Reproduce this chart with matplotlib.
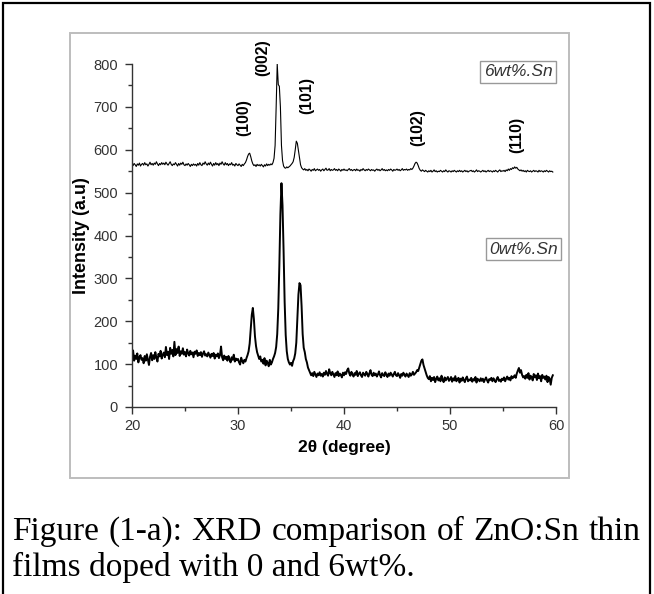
import numpy as np
import matplotlib.pyplot as plt
from matplotlib.patches import Rectangle
from matplotlib.ticker import MultipleLocator

plt.rcParams['font.family'] = ['Liberation Sans', 'DejaVu Sans']

# scan grid, 0.1 degree step
two_theta = np.linspace(20.0, 59.7, 398)

# undoped film (one row per degree)
intensity_0wt = [
    118, 132, 108, 120, 112, 125, 104, 116, 121, 110,
    114, 102, 119, 108, 123, 111, 98, 117, 126, 109,
    121, 112, 128, 115, 106, 124, 118, 131, 113, 122,
    127, 116, 140, 121, 129, 112, 138, 124, 133, 118,
    152, 121, 135, 126, 141, 119, 130, 124, 137, 122,
    128, 118, 134, 125, 120, 131, 123, 127, 116, 129,
    124, 132, 119, 126, 121, 128, 117, 125, 130, 120,
    123, 118, 127, 121, 115, 124, 119, 126, 113, 122,
    118, 125, 114, 121, 141, 116, 109, 120, 112, 117,
    108, 119, 111, 104, 116, 110, 122, 106, 113, 109,
    112, 104, 99, 115, 107, 102, 110, 106, 114, 121,
    130, 148, 180, 215, 231, 205, 165, 142, 128, 120,
    112, 118, 106, 110, 101, 114, 97, 108, 103, 95,
    110, 99, 104, 112, 118, 126, 140, 170, 230, 330,
    450, 522, 470, 365, 245, 168, 130, 112, 104, 99,
    103, 96, 107, 113, 125, 150, 205, 262, 289, 284,
    235, 170, 138, 128, 112, 104, 92, 86, 80, 74,
    79, 72, 82, 76, 70, 78, 74, 81, 73, 77,
    71, 80, 75, 84, 77, 73, 88, 79, 74, 82,
    76, 70, 79, 74, 83, 72, 78, 75, 69, 80,
    74, 81, 77, 86, 90, 78, 73, 82, 76, 71,
    79, 75, 84, 72, 78, 81, 74, 70, 80, 76,
    73, 82, 77, 71, 79, 86, 75, 72, 80, 74,
    78, 71, 76, 83, 74, 69, 79, 75, 72, 81,
    75, 70, 78, 73, 80, 76, 71, 77, 82, 74,
    72, 79, 74, 68, 77, 73, 80, 75, 71, 78,
    74, 70, 79, 73, 76, 82, 75, 78, 81, 86,
    84, 92, 100, 108, 111, 98, 90, 82, 74, 68,
    65, 72, 60, 68, 63, 70, 58, 66, 71, 62,
    67, 60, 73, 64, 58, 69, 62, 66, 70, 61,
    64, 70, 59, 67, 62, 72, 60, 65, 68, 57,
    66, 61, 69, 63, 58, 67, 71, 60, 64, 62,
    68, 59, 65, 62, 70, 57, 66, 63, 60, 67,
    61, 66, 58, 64, 69, 62, 57, 65, 63, 68,
    60, 67, 62, 58, 65, 70, 61, 64, 59, 66,
    63, 69, 60, 66, 71, 64, 68, 62, 72, 67,
    70, 74, 68, 78, 85, 91, 80, 86, 75, 69,
    72, 66, 75, 68, 79, 64, 73, 70, 62, 77,
    69, 74, 63, 78, 67, 72, 60, 75, 68, 71,
    64, 73, 58, 70, 66, 52, 68, 74,
]

# 6 wt% Sn film
intensity_6wt = [
    566, 563, 568, 565, 561, 567, 564, 569, 562, 566,
    568, 564, 570, 565, 567, 562, 566, 571, 565, 568,
    564, 569, 566, 572, 567, 563, 568, 565, 570, 566,
    569, 565, 571, 567, 564, 568, 572, 566, 563, 567,
    565, 570, 566, 562, 568, 564, 569, 566, 571, 565,
    563, 567, 564, 568, 565, 561, 566, 563, 567, 564,
    566, 562, 568, 564, 570, 565, 563, 569, 566, 572,
    567, 564, 569, 565, 571, 566, 562, 568, 564, 570,
    565, 568, 563, 569, 566, 572, 567, 564, 570, 565,
    568, 563, 567, 565, 570, 564, 566, 562, 568, 565,
    563, 567, 564, 561, 566, 563, 567, 570, 576, 584,
    590, 592, 584, 574, 567, 563, 565, 561, 566, 563,
    565, 562, 566, 563, 560, 565, 562, 567, 563, 566,
    564, 567, 565, 570, 580, 610, 700, 800, 752, 748,
    700, 610, 575, 562, 558, 557, 560, 558, 560, 562,
    565, 568, 572, 582, 600, 620, 615, 598, 580, 565,
    558, 555, 553, 556, 552, 554, 551, 555, 553, 550,
    554, 552, 556, 551, 553, 555, 552, 554, 550, 553,
    555, 551, 554, 557, 552, 553, 556, 551, 554, 552,
    553, 556, 552, 554, 551, 555, 553, 550, 554, 552,
    555, 552, 553, 551, 554, 556, 552, 554, 551, 553,
    554, 551, 555, 552, 553, 550, 554, 552, 556, 553,
    551, 554, 552, 555, 553, 551, 554, 552, 553, 550,
    553, 555, 552, 554, 551, 553, 556, 552, 554, 551,
    553, 551, 554, 552, 555, 553, 550, 554, 552, 553,
    555, 552, 554, 551, 553, 556, 552, 554, 553, 555,
    552, 554, 553, 556, 554, 557, 562, 568, 571, 569,
    563, 556, 552, 550, 553, 551, 549, 552, 550, 548,
    551, 549, 552, 548, 550, 553, 549, 551, 548, 550,
    549, 552, 550, 548, 551, 549, 553, 550, 548, 551,
    550, 548, 551, 549, 552, 550, 548, 551, 549, 552,
    549, 551, 548, 550, 552, 549, 551, 548, 550, 551,
    552, 549, 551, 548, 550, 553, 549, 551, 550, 548,
    550, 552, 549, 551, 548, 550, 552, 549, 551, 550,
    548, 551, 549, 552, 550, 548, 551, 553, 549, 551,
    550, 552, 549, 553, 551, 555, 552, 556, 554, 558,
    556, 560, 557, 559, 555, 553, 551, 553, 550, 552,
    549, 551, 548, 552, 550, 549, 551, 548, 550, 552,
    549, 551, 550, 548, 552, 549, 551, 550, 548, 551,
    549, 552, 550, 548, 551, 549, 550, 548,
]

peak_labels = ['(100)', '(002)', '(101)', '(102)', '(110)']
peak_angles = [30.5, 32.3, 36.5, 47.0, 56.3]
peak_label_heights = [674, 815, 727, 652, 634]

sample_labels = ['6wt%.Sn', '0wt%.Sn']

caption_line1 = 'Figure (1-a): XRD comparison of ZnO:Sn thin'
caption_line2 = 'films doped with 0 and 6wt%.'

W, H = 654, 594
fig = plt.figure(figsize=(W / 100, H / 100), dpi=100)


def fx(px):
    return px / W


def fy(py):
    return 1 - py / H


# page frame and the light grey chart frame
fig.add_artist(Rectangle((fx(3), fy(610)), (650 - 3) / W, (610 - 3) / H,
                         transform=fig.transFigure, fill=False,
                         ec='black', lw=1.6))
fig.add_artist(Rectangle((fx(70), fy(478)), (569 - 70) / W, (478 - 33) / H,
                         transform=fig.transFigure, fill=False,
                         ec='#bdbdbd', lw=1.4))

ax = fig.add_axes([fx(132), fy(407), (556 - 132) / W, (407 - 64) / H])
ax.plot(two_theta, intensity_0wt, color='black', lw=1.4)
ax.plot(two_theta, intensity_6wt, color='black', lw=0.8)

ax.set_xlim(20, 60)
ax.set_ylim(0, 800)
for s in ['top', 'right']:
    ax.spines[s].set_visible(False)
for s in ['left', 'bottom']:
    ax.spines[s].set_color('#333333')
    ax.spines[s].set_linewidth(1.0)

ax.xaxis.set_major_locator(MultipleLocator(10))
ax.xaxis.set_minor_locator(MultipleLocator(5))
ax.yaxis.set_major_locator(MultipleLocator(100))
ax.yaxis.set_minor_locator(MultipleLocator(50))
ax.tick_params(which='major', direction='out', length=5, width=1,
               color='#333333', labelsize=10.5, labelcolor='#333333')
ax.tick_params(which='minor', direction='out', length=3, width=1,
               color='#333333')
ax.tick_params(axis='y', pad=5)
ax.tick_params(axis='x', pad=4)

ax.set_xlabel('2θ (degree)', fontsize=12.5, fontweight='bold')
ax.set_ylabel('Intensity (a.u)', fontsize=13, fontweight='bold')
ax.xaxis.set_label_coords(0.5, -0.096)
ax.yaxis.set_label_coords(-0.099, 0.5)

for lab, x, y in zip(peak_labels, peak_angles, peak_label_heights):
    ax.text(x, y, lab, rotation=90, ha='center', va='center',
            fontsize=11.4, fontweight='bold', clip_on=False)

box_style = dict(boxstyle='square,pad=0.2', fc='white', ec='#999999', lw=1)
ax.text(56.4, 782, sample_labels[0], ha='center', va='center',
        fontsize=12.5, fontstyle='italic', color='#333333', bbox=box_style)
ax.text(56.95, 368, sample_labels[1], ha='center', va='center',
        fontsize=12.5, fontstyle='italic', color='#333333', bbox=box_style)

# caption, first line justified across the frame
serif = ['Liberation Serif', 'DejaVu Serif']
words = caption_line1.split()
word_texts = [fig.text(0, fy(540), w, fontsize=24, family=serif,
                       va='baseline', ha='left') for w in words]
fig.text(fx(12), fy(576), caption_line2, fontsize=24, family=serif,
         va='baseline', ha='left')

fig.canvas.draw()
renderer = fig.canvas.get_renderer()
widths = [t.get_window_extent(renderer).width for t in word_texts]
left, right = 12, 641
gap = (right - left - sum(widths)) / (len(words) - 1)
x = left
for t, w in zip(word_texts, widths):
    t.set_x(fx(x))
    x += w + gap

fig.savefig('out.png', dpi=100)
